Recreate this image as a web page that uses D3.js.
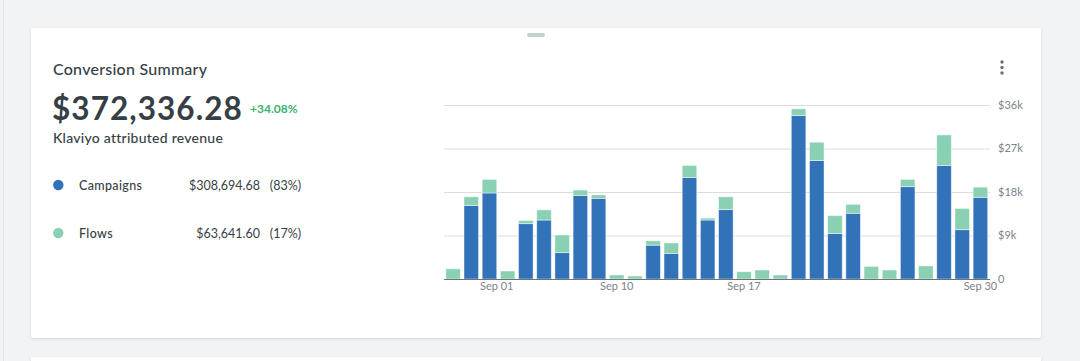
<!DOCTYPE html>
<html>
<head>
<meta charset="utf-8">
<script src="https://cdn.jsdelivr.net/npm/d3@7"></script>
<style>
  html, body { margin: 0; padding: 0; background: #f2f3f5; }
  svg { display: block; font-family: Lato, "Open Sans", sans-serif; }
</style>
</head>
<body>
<svg id="chart" width="1080" height="361"></svg>
<script>
// ---- data ----
const days = d3.range(1, 31);
const campaigns = [0, 15.2, 17.8, 0, 11.45, 12.2, 5.45, 17.25, 16.7, 0,
                   0, 7.0, 5.3, 21.0, 12.2, 14.35, 0, 0, 0, 33.8,
                   24.5, 9.4, 13.6, 0, 0, 19.1, 0, 23.5, 10.2, 16.9];
const flows = [2.1, 1.8, 2.8, 1.65, 0.65, 2.1, 3.65, 1.15, 0.7, 0.83,
               0.62, 0.9, 2.15, 2.5, 0.4, 2.65, 1.5, 1.86, 0.83, 1.4,
               3.8, 3.7, 1.85, 2.6, 1.86, 1.5, 2.7, 6.3, 4.4, 2.1];
const yTicks = [0, 9, 18, 27, 36];
const yTickLabels = ["0", "$9k", "$18k", "$27k", "$36k"];
const xTickLabels = ["Sep 01", "Sep 10", "Sep 17", "Sep 30"];
const xTickPositions = [3.4, 10, 17, 30];
const seriesNames = ["Campaigns", "Flows"];
const seriesTotals = ["$308,694.68", "$63,641.60"];
const seriesPct = ["(83%)", "(17%)"];
const colors = ["#3272b9", "#89d1b2"];

const svg = d3.select("#chart");

// page background + cards
svg.append("rect").attr("x", 3).attr("y", 0).attr("width", 1).attr("height", 361).attr("fill", "#e4e5e8");
const defs = svg.append("defs");
const f = defs.append("filter").attr("id", "shadow").attr("x", "-5%").attr("y", "-10%").attr("width", "110%").attr("height", "125%");
f.append("feDropShadow").attr("dx", 0).attr("dy", 1).attr("stdDeviation", 1.5).attr("flood-color", "#000").attr("flood-opacity", 0.12);
svg.append("rect").attr("x", 31).attr("y", 28).attr("width", 1010).attr("height", 310)
  .attr("fill", "#fff").attr("rx", 2).attr("filter", "url(#shadow)");
svg.append("rect").attr("x", 31).attr("y", 357).attr("width", 1010).attr("height", 20)
  .attr("fill", "#fff").attr("rx", 2).attr("filter", "url(#shadow)");
// drag handle
svg.append("rect").attr("x", 527).attr("y", 33).attr("width", 18).attr("height", 4).attr("rx", 2).attr("fill", "#c3d0d0");
// menu dots
[62, 67.5, 73].forEach(cy => svg.append("circle").attr("cx", 1002).attr("cy", cy).attr("r", 1.7).attr("fill", "#6b7176"));

// header texts
svg.append("text").attr("x", 53).attr("y", 75).attr("font-size", 16).attr("font-weight", 500)
  .attr("letter-spacing", 0.25).attr("fill", "#363e46").text("Conversion Summary");
svg.append("text").attr("x", 52).attr("y", 119.5).attr("font-size", 31.5).attr("font-weight", 700)
  .attr("letter-spacing", 1.05).attr("fill", "#363e46").text("$372,336.28");
svg.append("text").attr("x", 250).attr("y", 113.3).attr("font-size", 12).attr("font-weight", 700)
  .attr("fill", "#3bb273").text("+34.08%");
svg.append("text").attr("x", 53).attr("y", 143.3).attr("font-size", 14).attr("font-weight", 500)
  .attr("letter-spacing", 0.25).attr("fill", "#363e46").text("Klaviyo attributed revenue");

// legend
const legY = [185, 233];
seriesNames.forEach((n, i) => {
  const g = svg.append("g").attr("transform", `translate(0,${legY[i]})`);
  g.append("circle").attr("cx", 58.3).attr("cy", 0).attr("r", 5.2).attr("fill", colors[i]);
  g.append("text").attr("x", 79).attr("y", 5).attr("font-size", 12.5).attr("font-weight", 500)
    .attr("letter-spacing", 0.35).attr("fill", "#363e46").text(n);
  g.append("text").attr("x", 260).attr("y", 5).attr("text-anchor", "end").attr("font-size", 12.5).attr("fill", "#363e46").text(seriesTotals[i]);
  g.append("text").attr("x", 301).attr("y", 5).attr("text-anchor", "end").attr("font-size", 12.5).attr("fill", "#363e46").text(seriesPct[i]);
});

// chart
const x = d3.scaleBand().domain(days).range([444, 989.5]).paddingInner(0.2).paddingOuter(0.1);
const xPos = d3.scaleLinear().domain([1, 30]).range([x(1) + x.bandwidth() / 2, x(30) + x.bandwidth() / 2]);
const y = d3.scaleLinear().domain([0, 36]).range([279, 105]);

// gridlines
svg.append("g").selectAll("line").data(yTicks.slice(1)).join("line")
  .attr("x1", 444).attr("x2", 990).attr("y1", d => y(d) + 0.5).attr("y2", d => y(d) + 0.5)
  .attr("stroke", "#dcdcdc").attr("stroke-width", 1);

// y labels
svg.append("g").selectAll("text").data(yTicks).join("text")
  .attr("x", 998).attr("y", d => y(d)).attr("dy", "0.35em")
  .attr("font-size", 11).attr("fill", "#7d8288")
  .text((d, i) => yTickLabels[i]);

// stacked bars
const rows = days.map((d, i) => ({ day: d, Campaigns: campaigns[i], Flows: flows[i] }));
const stack = d3.stack().keys(seriesNames)(rows);
svg.append("g").selectAll("g").data(stack).join("g")
  .attr("fill", (d, i) => colors[i])
  .selectAll("rect").data(d => d.filter(p => p[1] - p[0] > 0)).join("rect")
  .attr("x", d => x(d.data.day))
  .attr("width", x.bandwidth())
  .attr("y", d => y(d[1]))
  .attr("height", d => y(d[0]) - y(d[1]))
  .attr("stroke", "rgba(255,255,255,0.55)").attr("stroke-width", 0.8);

// baseline
svg.append("line").attr("x1", 444).attr("x2", 990).attr("y1", 279.5).attr("y2", 279.5)
  .attr("stroke", "#6e7379").attr("stroke-width", 1);

// x labels
svg.append("g").selectAll("text").data(xTickPositions).join("text")
  .attr("x", d => xPos(d)).attr("y", 290).attr("text-anchor", "middle")
  .attr("font-size", 11).attr("fill", "#7d8288")
  .text((d, i) => xTickLabels[i]);
</script>
</body>
</html>
